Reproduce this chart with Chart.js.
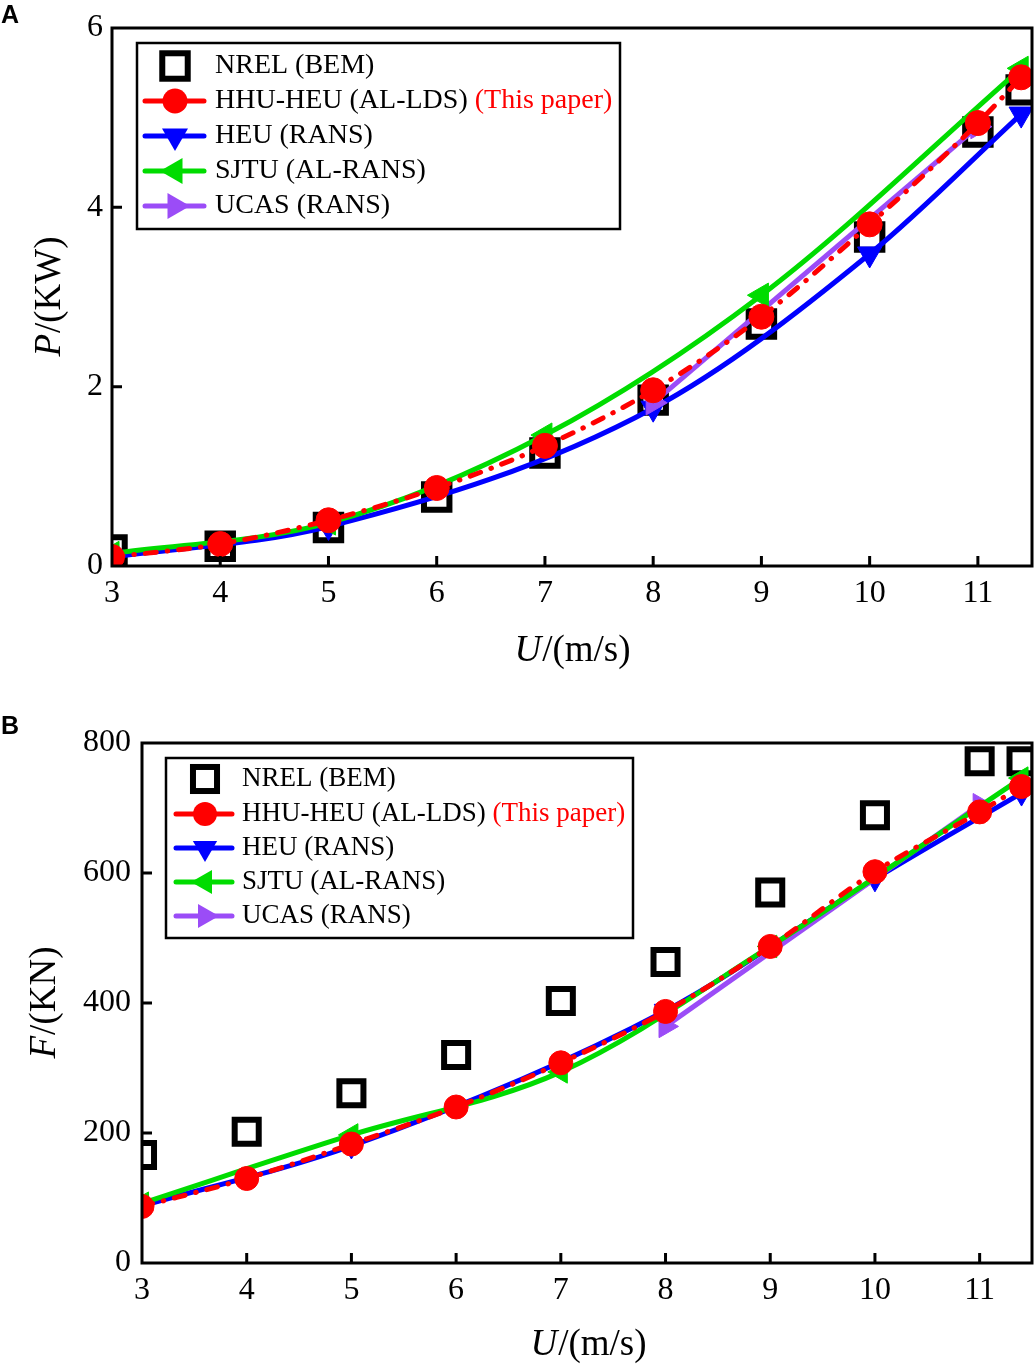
<!DOCTYPE html>
<html>
<head>
<meta charset="utf-8">
<script src="https://cdn.jsdelivr.net/npm/chart.js@4.4.1/dist/chart.umd.min.js"></script>
<style>
  html, body { margin: 0; padding: 0; background: #fff; }
  #wrap { position: relative; width: 1035px; height: 1367px; }
  canvas { position: absolute; left: 0; }
  #powerChart { top: 0; }
  #thrustChart { top: 690px; }
</style>
</head>
<body>
<div id="wrap">
  <canvas id="powerChart" width="1035" height="690"></canvas>
  <canvas id="thrustChart" width="1035" height="677"></canvas>
</div>
<script>
// wind speeds (m/s) for each source
const windSpeeds = [3, 4, 5, 6, 7, 8, 9, 10, 11, 11.4];
const heuSpeeds = [3, 5, 8, 10, 11.4];
const sjtuSpeeds = [3, 5, 7, 9, 11.4];
const ucasSpeeds = [8, 11];

// power P (KW)
const powerNrel = [0.18, 0.22, 0.43, 0.77, 1.26, 1.85, 2.70, 3.67, 4.84, 5.31];
const powerHhuHeu = [0.10, 0.245, 0.51, 0.87, 1.34, 1.96, 2.78, 3.81, 4.94, 5.45];
const powerHeu = [0.10, 0.44, 1.76, 3.48, 5.04];
const powerSjtu = [0.14, 0.48, 1.46, 3.02, 5.55];
const powerUcas = [1.82, 4.90];

// thrust F (KN)
const thrustNrel = [166, 202, 261, 320, 403, 463, 570, 689, 772, 772];
const thrustHhuHeu = [87, 130, 183, 240, 308, 387, 487, 602, 694, 733];
const thrustHeu = [88, 180, 388, 591, 723];
const thrustSjtu = [92, 197, 294, 487, 746];
const thrustUcas = [364, 705];

// tick labels
const xTickValues = [3, 4, 5, 6, 7, 8, 9, 10, 11];
const powerTickValues = [0, 2, 4, 6];
const thrustTickValues = [0, 200, 400, 600, 800];

const seriesNames = ["NREL (BEM)", "HHU-HEU (AL-LDS)", "HEU (RANS)", "SJTU (AL-RANS)", "UCAS (RANS)"];
const highlightNote = "(This paper)";

const RED = "#ff0000", BLUE = "#0000ff", GREEN = "#00dc00", PURPLE = "#9b4cf7";
const SERIF = '"Liberation Serif", "Times New Roman", serif';

function pts(xs, ys) {
  return xs.map((x, i) => ({ x: x, y: ys[i] }));
}

function tri(ctx, x, y, r, rotDeg) {
  let rad = rotDeg * Math.PI / 180;
  ctx.beginPath();
  ctx.moveTo(x + Math.sin(rad) * r, y - Math.cos(rad) * r);
  rad += 2 * Math.PI / 3;
  ctx.lineTo(x + Math.sin(rad) * r, y - Math.cos(rad) * r);
  rad += 2 * Math.PI / 3;
  ctx.lineTo(x + Math.sin(rad) * r, y - Math.cos(rad) * r);
  ctx.closePath();
  ctx.fill();
}

function drawTitle(ctx, italicPart, rest, cx, cy, rotate, size) {
  ctx.save();
  ctx.translate(cx, cy);
  if (rotate) ctx.rotate(-Math.PI / 2);
  const fi = "italic " + size + "px " + SERIF;
  const fr = size + "px " + SERIF;
  ctx.font = fi;
  const w1 = ctx.measureText(italicPart).width;
  ctx.font = fr;
  const w2 = ctx.measureText(rest).width;
  const start = -(w1 + w2) / 2;
  ctx.fillStyle = "#000";
  ctx.textBaseline = "middle";
  ctx.textAlign = "left";
  ctx.font = fi;
  ctx.fillText(italicPart, start, 0);
  ctx.font = fr;
  ctx.fillText(rest, start + w1 + 1, 0);
  ctx.restore();
}

function drawLegend(ctx, L, m) {
  const b = L.box;
  ctx.save();
  ctx.fillStyle = "#fff";
  ctx.fillRect(b[0], b[1], b[2] - b[0], b[3] - b[1]);
  ctx.strokeStyle = "#000";
  ctx.lineWidth = 2.5;
  ctx.strokeRect(b[0], b[1], b[2] - b[0], b[3] - b[1]);

  const colors = [null, RED, BLUE, GREEN, PURPLE];
  const rots = [0, 0, 180, -90, 90];
  L.rows.forEach((y, i) => {
    const mx = L.markX;
    ctx.lineCap = "round";
    if (i === 0) {
      const s = m.sq * Math.SQRT1_2;
      ctx.strokeStyle = "#000";
      ctx.lineWidth = 6;
      ctx.strokeRect(mx - s, y - s, 2 * s, 2 * s);
    } else if (i === 1) {
      ctx.strokeStyle = RED;
      ctx.lineWidth = 5;
      ctx.beginPath();
      ctx.moveTo(L.lineL, y); ctx.lineTo(mx - 12, y);
      ctx.moveTo(mx + 10, y); ctx.lineTo(L.lineR, y);
      ctx.stroke();
      ctx.fillStyle = RED;
      ctx.beginPath();
      ctx.arc(mx, y, m.circle, 0, 2 * Math.PI);
      ctx.fill();
    } else {
      ctx.strokeStyle = colors[i];
      ctx.fillStyle = colors[i];
      ctx.lineWidth = 5;
      ctx.beginPath();
      ctx.moveTo(L.lineL, y); ctx.lineTo(L.lineR, y);
      ctx.stroke();
      tri(ctx, mx, y, m.tri + 1, rots[i]);
    }
    ctx.font = L.font + "px " + SERIF;
    ctx.textBaseline = "middle";
    ctx.textAlign = "left";
    ctx.fillStyle = "#000";
    ctx.fillText(seriesNames[i], L.textX, y);
    if (i === 1) {
      const w = ctx.measureText(seriesNames[i] + " ").width;
      ctx.fillStyle = RED;
      ctx.fillText(highlightNote, L.textX + w, y);
    }
  });
  ctx.restore();
}

const decor = {
  id: "decor",
  afterDatasetsDraw(chart, args, o) {
    const ctx = chart.ctx;
    const a = chart.chartArea;
    const sx = chart.scales.x, sy = chart.scales.y;
    ctx.save();
    ctx.strokeStyle = "#000";
    ctx.lineWidth = 3;
    ctx.lineCap = "butt";
    ctx.strokeRect(a.left, a.top, a.right - a.left, a.bottom - a.top);
    ctx.beginPath();
    sx.ticks.forEach(t => {
      const px = sx.getPixelForValue(t.value);
      if (px <= a.left + 2 || px >= a.right - 2) return;
      ctx.moveTo(px, a.bottom);
      ctx.lineTo(px, a.bottom - 10);
    });
    sy.ticks.forEach(t => {
      const py = sy.getPixelForValue(t.value);
      if (py >= a.bottom - 2 || py <= a.top + 2) return;
      ctx.moveTo(a.left, py);
      ctx.lineTo(a.left + 10, py);
    });
    ctx.stroke();
    ctx.restore();

    drawLegend(ctx, o.legend, o.marks);
    drawTitle(ctx, o.yTitle[0], o.yTitle[1], o.yTitle[2], o.yTitle[3], true, o.titleSize);
    drawTitle(ctx, o.xTitle[0], o.xTitle[1], o.xTitle[2], o.xTitle[3], false, o.titleSize);

    ctx.save();
    ctx.font = 'bold 25px "Liberation Sans", Arial, sans-serif';
    ctx.fillStyle = "#000";
    ctx.textBaseline = "middle";
    ctx.textAlign = "left";
    ctx.fillText(o.panel[0], o.panel[1], o.panel[2]);
    ctx.restore();
  }
};

function makeChart(id, cfg) {
  const m = cfg.marks;
  const line = {
    showLine: true,
    borderWidth: 5,
    cubicInterpolationMode: "monotone",
    pointBorderWidth: 1
  };
  const datasets = [
    Object.assign({}, line, {
      label: seriesNames[1],
      data: pts(windSpeeds, cfg.hhu),
      borderColor: RED,
      borderDash: [11, 11, 0.5, 11],
      borderCapStyle: "round",
      pointStyle: "circle",
      pointRadius: m.circle,
      pointBackgroundColor: RED,
      pointBorderColor: RED,
      order: 0
    }),
    Object.assign({}, line, {
      label: seriesNames[3],
      data: pts(sjtuSpeeds, cfg.sjtu),
      borderColor: GREEN,
      pointStyle: "triangle",
      pointRotation: -90,
      pointRadius: m.tri,
      pointBackgroundColor: GREEN,
      pointBorderColor: GREEN,
      order: 1
    }),
    Object.assign({}, line, {
      label: seriesNames[4],
      data: pts(ucasSpeeds, cfg.ucas),
      borderColor: PURPLE,
      pointStyle: "triangle",
      pointRotation: 90,
      pointRadius: m.tri,
      pointBackgroundColor: PURPLE,
      pointBorderColor: PURPLE,
      order: 2
    }),
    Object.assign({}, line, {
      label: seriesNames[2],
      data: pts(heuSpeeds, cfg.heu),
      borderColor: BLUE,
      pointStyle: "triangle",
      pointRotation: 180,
      pointRadius: m.tri,
      pointBackgroundColor: BLUE,
      pointBorderColor: BLUE,
      order: 3
    }),
    {
      label: seriesNames[0],
      data: pts(windSpeeds, cfg.nrel),
      showLine: false,
      pointStyle: "rect",
      pointRadius: m.sq,
      pointBorderWidth: 6,
      pointBorderColor: "#000",
      pointBackgroundColor: "rgba(0,0,0,0)",
      order: 4
    }
  ];

  const tickFont = { family: SERIF, size: 32 };
  return new Chart(document.getElementById(id), {
    type: "line",
    data: { datasets: datasets },
    options: {
      responsive: false,
      animation: false,
      devicePixelRatio: 1,
      layout: { autoPadding: false, padding: { top: cfg.top, right: 3, left: 0, bottom: 0 } },
      plugins: {
        legend: { display: false },
        tooltip: { enabled: false },
        decor: cfg.decor
      },
      scales: {
        x: {
          type: "linear",
          min: 3,
          max: 11.5,
          afterBuildTicks: s => { s.ticks = xTickValues.map(v => ({ value: v })); },
          afterFit: s => { s.height = cfg.xHeight; s.paddingLeft = 0; s.paddingRight = 0; },
          grid: { display: false, drawTicks: false },
          border: { display: false },
          ticks: { font: tickFont, color: "#000", padding: 8, maxRotation: 0, autoSkip: false }
        },
        y: {
          type: "linear",
          min: 0,
          max: cfg.yMax,
          afterBuildTicks: s => { s.ticks = cfg.yTicks.map(v => ({ value: v })); },
          afterFit: s => { s.width = cfg.yWidth; s.paddingTop = 0; s.paddingBottom = 0; },
          grid: { display: false, drawTicks: false },
          border: { display: false },
          ticks: { font: tickFont, color: "#000", padding: cfg.yPad, autoSkip: false }
        }
      }
    },
    plugins: [decor]
  });
}

const marksA = { sq: 18, circle: 12.5, tri: 14 };
makeChart("powerChart", {
  nrel: powerNrel, hhu: powerHhuHeu, heu: powerHeu, sjtu: powerSjtu, ucas: powerUcas,
  yMax: 6, yTicks: powerTickValues,
  top: 28, xHeight: 124, yWidth: 112, yPad: 9,
  marks: marksA,
  decor: {
    marks: marksA,
    legend: { box: [137, 43, 620, 229], rows: [66, 101, 136, 171, 206], lineL: 145, lineR: 204, markX: 175, textX: 215, font: 28 },
    yTitle: ["P", "/(KW)", 50, 297],
    xTitle: ["U", "/(m/s)", 572, 651],
    titleSize: 37,
    panel: ["A", 1, 16]
  }
});

const marksB = { sq: 17, circle: 12, tri: 13 };
makeChart("thrustChart", {
  nrel: thrustNrel, hhu: thrustHhuHeu, heu: thrustHeu, sjtu: thrustSjtu, ucas: thrustUcas,
  yMax: 800, yTicks: thrustTickValues,
  top: 53, xHeight: 104, yWidth: 142, yPad: 11,
  marks: marksB,
  decor: {
    marks: marksB,
    legend: { box: [166, 68, 633, 248], rows: [89, 124, 158, 192, 226], lineL: 176, lineR: 232, markX: 205, textX: 242, font: 27 },
    yTitle: ["F", "/(KN)", 45, 313],
    xTitle: ["U", "/(m/s)", 588, 655],
    titleSize: 37,
    panel: ["B", 1, 37]
  }
});
</script>
</body>
</html>
